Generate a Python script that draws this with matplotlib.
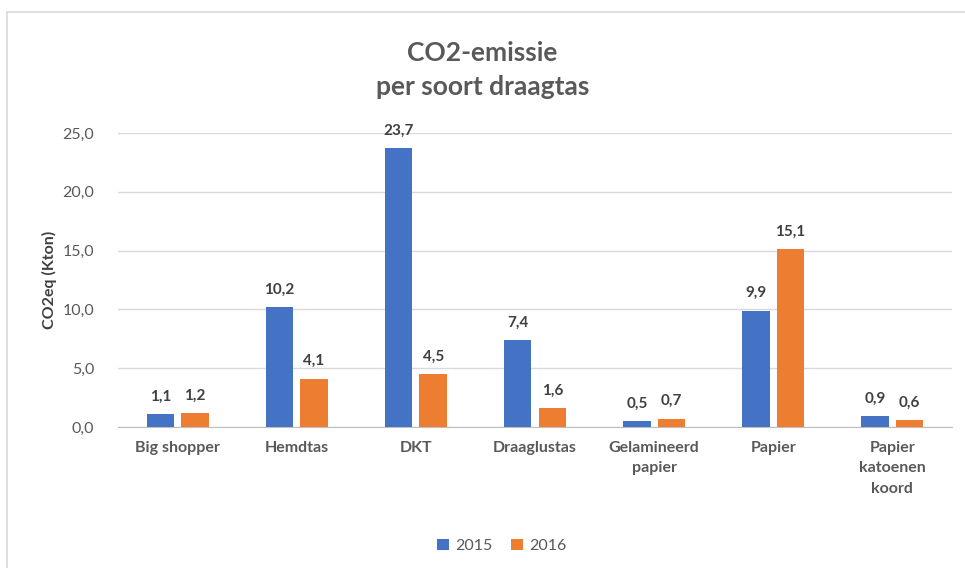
import numpy as np
import matplotlib.pyplot as plt
from matplotlib.patches import Rectangle

categories = ['Big shopper', 'Hemdtas', 'DKT', 'Draaglustas', 'Gelamineerd\npapier',
              'Papier', 'Papier\nkatoenen\nkoord']
v2015 = [1.1, 10.2, 23.7, 7.4, 0.5, 9.9, 0.9]
v2016 = [1.2, 4.1, 4.5, 1.6, 0.7, 15.1, 0.6]
years = ['2015', '2016']
colors = ['#4472C4', '#ED7D31']
grey = '#595959'

plt.rcParams['font.family'] = ['Lato', 'DejaVu Sans']

fig = plt.figure(figsize=(9.65, 5.68), dpi=100)
fig.patches.append(Rectangle((7 / 965, -0.01), 1.0, 1 - 12 / 568 + 0.01, transform=fig.transFigure,
                             fill=False, edgecolor='#d9d9d9', linewidth=1.2))
ax = fig.add_axes([118 / 965, 1 - 427 / 568, (952 - 118) / 965, (427 - 133) / 568])

x = np.arange(len(categories))
w = 0.23
gap = 0.03
b1 = ax.bar(x - w / 2 - gap, v2015, w, color=colors[0], label=years[0], zorder=3)
b2 = ax.bar(x + w / 2 + gap, v2016, w, color=colors[1], label=years[1], zorder=3)

for bars, vals in ((b1, v2015), (b2, v2016)):
    for r, v in zip(bars, vals):
        ax.text(r.get_x() + r.get_width() / 2, v + 0.9, f'{v:.1f}'.replace('.', ','),
                ha='center', va='bottom', fontsize=11, fontweight='bold', color='#404040')

ax.set_xlim(-0.5, len(categories) - 0.5)
ax.set_ylim(0, 25)
ax.set_yticks(np.arange(0, 26, 5))
ax.set_yticklabels([f'{t:.1f}'.replace('.', ',') for t in np.arange(0, 26, 5)])
ax.set_xticks(x)
ax.set_xticklabels(categories, fontsize=11.5, color=grey, fontweight='bold', linespacing=1.6)
ax.tick_params(axis='y', labelsize=11.5, labelcolor=grey, length=0, pad=17)
ax.tick_params(axis='x', length=0, pad=10)
ax.grid(axis='y', color='#d9d9d9', linewidth=1, zorder=0)
for s in ['top', 'right', 'left']:
    ax.spines[s].set_visible(False)
ax.spines['bottom'].set_color('#bfbfbf')
ax.set_ylabel('CO2eq (Kton)', fontsize=11.5, fontweight='bold', color='#404040', labelpad=4)

fig.text(0.5, 1 - 70 / 568, 'CO2-emissie\nper soort draagtas', ha='center', va='center',
         fontsize=19, color=grey, fontweight='bold', linespacing=1.5)

fig.legend(handles=[b1, b2], labels=years, loc='center', bbox_to_anchor=(0.52, 1 - 546 / 568),
           ncol=2, frameon=False, fontsize=11.5, handlelength=0.7, handleheight=0.7,
           columnspacing=1.2, handletextpad=0.4, labelcolor=grey)

fig.savefig('out.png', dpi=100)
